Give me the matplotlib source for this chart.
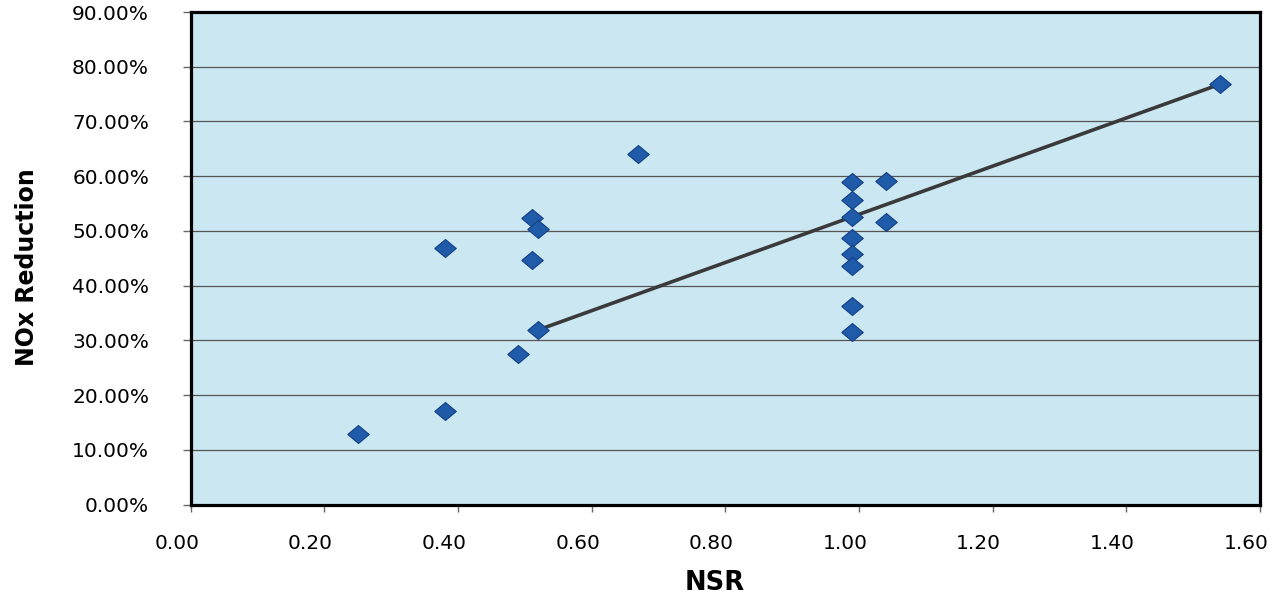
import matplotlib
matplotlib.use("Agg")
import matplotlib.pyplot as plt
from matplotlib.ticker import FuncFormatter
from matplotlib.transforms import ScaledTranslation

# Data
nsr = [0.25, 0.38, 0.38, 0.49, 0.51, 0.51, 0.52, 0.52, 0.67,
       0.99, 0.99, 0.99, 0.99, 0.99, 0.99, 0.99, 0.99,
       1.04, 1.04, 1.54]
nox_reduction = [12.9, 17.1, 46.9, 27.5, 44.7, 52.4, 50.4, 31.9, 64.1,
                 58.9, 55.7, 52.6, 48.7, 45.8, 43.5, 36.3, 31.5,
                 59.1, 51.7, 76.8]
trend_x = [0.52, 1.54]
trend_y = [31.9, 76.8]

x_ticks = [0.0, 0.2, 0.4, 0.6, 0.8, 1.0, 1.2, 1.4, 1.6]
y_ticks = [0, 10, 20, 30, 40, 50, 60, 70, 80, 90]

plt.rcParams['font.family'] = ['DejaVu Sans']

fig = plt.figure(figsize=(12.85, 6.01), dpi=100)
fig.patch.set_facecolor('white')
ax = fig.add_axes([190.7 / 1285, 1 - 504.5 / 601, (1260 - 190.7) / 1285, (504.5 - 12) / 601])
ax.set_facecolor('#cbe7f2')

ax.set_xlim(0, 1.6)
ax.set_ylim(0, 90)
ax.set_xticks(x_ticks)
ax.set_yticks(y_ticks)
ax.xaxis.set_major_formatter(FuncFormatter(lambda v, p: f"{v:.2f}"))
ax.yaxis.set_major_formatter(FuncFormatter(lambda v, p: f"{v:.2f}%"))

ax.grid(axis='y', color='#555555', linewidth=0.9, zorder=1)
ax.set_axisbelow(True)

ax.plot(trend_x, trend_y, color='#3a3a3a', linewidth=2.6, solid_capstyle='round', zorder=3)

diamond = [(-1.2, 0), (0, 1), (1.2, 0), (0, -1), (-1.2, 0)]
ax.plot(nsr, nox_reduction, linestyle='none', marker=diamond, markersize=15.5,
        markerfacecolor='#1f5ba8', markeredgecolor='#143f85', markeredgewidth=0.8, zorder=4)

for s in ax.spines.values():
    s.set_linewidth(2.3)
    s.set_color('black')

ax.tick_params(axis='y', direction='out', length=6, width=1, color='#666666',
               labelsize=14.5, pad=24)
ax.tick_params(axis='x', direction='out', length=5, width=1, color='#666666',
               labelsize=14.5, pad=16)

for lab in ax.get_xticklabels():
    lab.set_transform(lab.get_transform() + ScaledTranslation(-14 / 100, 0, fig.dpi_scale_trans))

ax.set_xlabel('NSR', fontsize=18.5, fontweight='bold')
ax.xaxis.set_label_coords((715 - 190.7) / 1069.3, -(583 - 504.5) / 492.5)
ax.xaxis.label.set_va('center')

ax.set_ylabel('NOx Reduction', fontsize=17, fontweight='bold')
ax.yaxis.set_label_coords((27 - 190.7) / 1069.3, (504.5 - 267) / 492.5)
ax.yaxis.label.set_va('center')
ax.yaxis.label.set_ha('center')

fig.savefig('out.png', dpi=100)
